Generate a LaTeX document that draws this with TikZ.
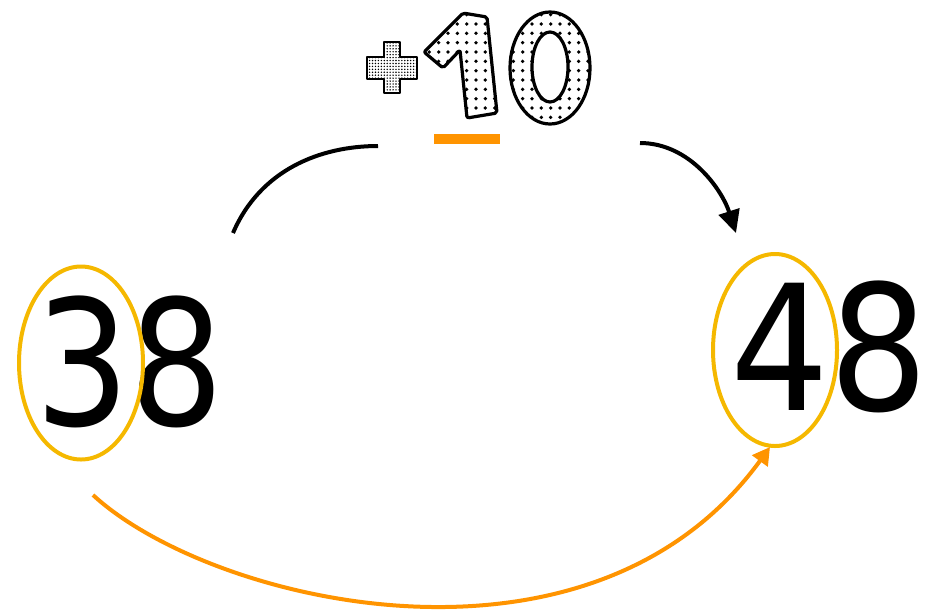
\documentclass[tikz,border=0pt]{standalone}
\usepackage{fontspec}
\usetikzlibrary{arrows.meta,patterns.meta,shapes.geometric}
\newfontfamily\numfont{DejaVu Sans}
\definecolor{ringyellow}{HTML}{F5B800}
\definecolor{jumporange}{HTML}{FF9400}
\tikzset{
  bignum/.style={font=\numfont\fontsize{131}{131}\selectfont, inner sep=0pt, text=black},
  ring/.style={draw=ringyellow, line width=3pt},
  hop/.style={draw=black, line width=3pt},
  tenjump/.style={draw=jumporange, line width=3pt},
  bubble/.style={draw=black, line width=2.4pt, line join=round, rounded corners=1.5pt,
    pattern={Dots[distance=7pt, radius=1.4pt]}},
  finebubble/.style={draw=black, line width=2pt, line join=round,
    pattern={Dots[distance=2.2pt, radius=0.6pt]}}
}
\begin{document}
\begin{tikzpicture}[x=0.75pt,y=-0.75pt]
\useasboundingbox (0,0) rectangle (930,612);

% the two numbers
\node[bignum, xscale=0.85, anchor=base west] (n38) at (35,425) {38};
\node[bignum, xscale=0.89, anchor=base west] (n48) at (730,410) {48};

% rings round the tens digits
\node[ring, ellipse, minimum width=124*0.75pt, minimum height=193*0.75pt, inner sep=0pt] (r3) at (81,363) {};
\node[ring, ellipse, minimum width=124*0.75pt, minimum height=192*0.75pt, inner sep=0pt] (r4) at (775,350) {};

% dotted "+10" heading
\filldraw[finebubble] (384,42) -- (400,42) -- (400,57) -- (417,57) -- (417,79) -- (400,79)
  -- (400,93) -- (384,93) -- (384,79) -- (367,79) -- (367,57) -- (384,57) -- cycle;
\filldraw[bubble] (424,52) -- (463,13) -- (487,17) -- (497,113) -- (467,118) -- (460,50)
  -- (443,68) -- cycle;
\filldraw[bubble, even odd rule, rounded corners=0pt] (550,68) ellipse [x radius=40, y radius=56]
  (550,67) ellipse [x radius=18, y radius=35];

% orange mark under the 1
\fill[jumporange] (434,134) rectangle (500,144);

% black hop over the top
\coordinate (hopA) at (233,233);
\coordinate (hopB) at (378,146);
\coordinate (hopC) at (640,143);
\coordinate (hopD) at (736,233);
\draw[hop] (hopA) .. controls (260,170) and (320,146) .. (hopB);
\draw[hop, -{Triangle[length=17pt, width=16pt]}] (hopC) .. controls (690,143) and (722,190) .. (hopD);

% orange jump from the 3 to the 4
\coordinate (jumpA) at (93,495);
\coordinate (jumpB) at (770,447);
\draw[tenjump, -{Triangle[length=13pt, width=14pt]}] (jumpA) .. controls (210,603) and (590,695) .. (jumpB);
\end{tikzpicture}
\end{document}
